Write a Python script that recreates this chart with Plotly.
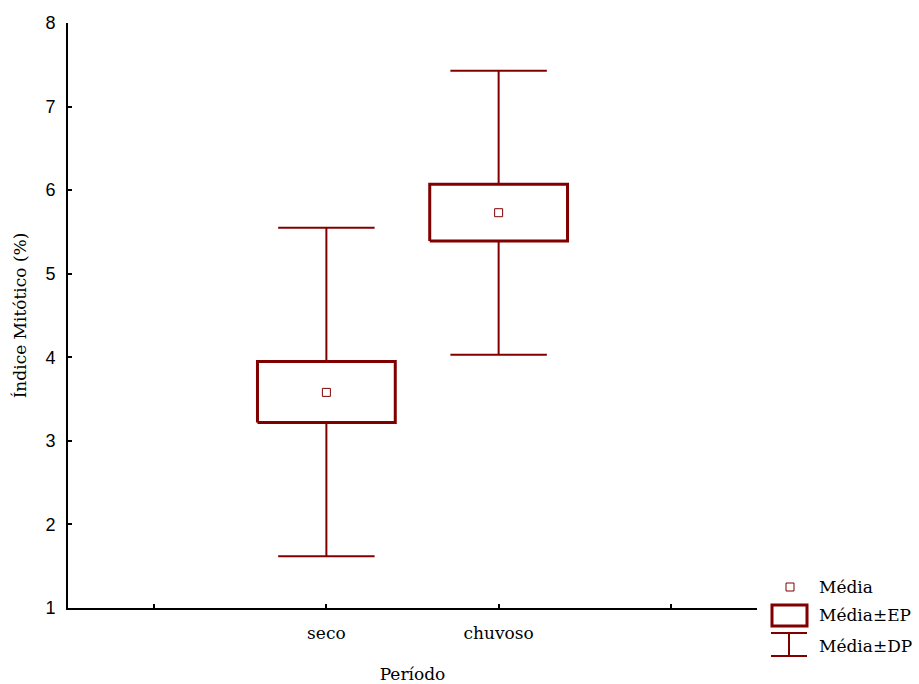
import plotly.graph_objects as go

# Mitotic index by period: mean, standard error (EP) and standard deviation (DP)
categorias = ["seco", "chuvoso"]
posicoes = [1, 2]
media = [3.58, 5.73]
ep_inf = [3.22, 5.39]
ep_sup = [3.95, 6.07]
dp_inf = [1.62, 4.03]
dp_sup = [5.55, 7.43]

tick_vals = [0, 1, 2, 3]
tick_text = ["", "seco", "chuvoso", ""]

COR = "#800000"
SERIF = "DejaVu Serif"
SANS = "Liberation Sans"
BOX_HW = 0.4     # half width of the SE box
CAP_HW = 0.28    # half width of the SD whisker caps

fig = go.Figure()

for x, m, el, eu, dl, du in zip(posicoes, media, ep_inf, ep_sup, dp_inf, dp_sup):
    # whisker: vertical stem plus caps
    fig.add_trace(go.Scatter(
        x=[x - CAP_HW, x + CAP_HW, None, x, x, None, x - CAP_HW, x + CAP_HW],
        y=[du, du, None, du, dl, None, dl, dl],
        mode="lines", line=dict(color=COR, width=2), hoverinfo="skip",
        showlegend=False))
    # SE box, filled white so it covers the stem
    fig.add_trace(go.Scatter(
        x=[x - BOX_HW, x + BOX_HW, x + BOX_HW, x - BOX_HW, x - BOX_HW],
        y=[el, el, eu, eu, el],
        mode="lines", fill="toself", fillcolor="white",
        line=dict(color=COR, width=3), hoverinfo="skip", showlegend=False))

# mean markers
fig.add_trace(go.Scatter(
    x=posicoes, y=media, mode="markers",
    marker=dict(symbol="square-open", size=8, color=COR, line=dict(width=1)),
    showlegend=False))

# plot area in pixels
L, R, T, B = 68, 757, 23, 608
W, H = 919, 684


def px(xp):
    return (xp - L) / (R - L)


def py(yp):
    return (B - yp) / (B - T)


shapes = []
annots = []
# legend: mean marker
shapes.append(dict(type="rect", xref="paper", yref="paper",
                   x0=px(786), x1=px(794), y0=py(591), y1=py(583),
                   line=dict(color=COR, width=1)))
# legend: SE box
shapes.append(dict(type="rect", xref="paper", yref="paper",
                   x0=px(772), x1=px(807), y0=py(626), y1=py(605),
                   line=dict(color=COR, width=3)))
# legend: SD whisker
for seg in [(771, 633, 807, 633), (771, 656, 807, 656), (789, 633, 789, 656)]:
    shapes.append(dict(type="line", xref="paper", yref="paper",
                       x0=px(seg[0]), y0=py(seg[1]), x1=px(seg[2]), y1=py(seg[3]),
                       line=dict(color=COR, width=2)))
for txt, yy in [("Média", 587), ("Média±EP", 615), ("Média±DP", 646)]:
    annots.append(dict(text=txt, xref="paper", yref="paper", x=px(817), y=py(yy),
                       xanchor="left", yanchor="middle", showarrow=False,
                       font=dict(family=SERIF, size=17, color="black")))

fig.update_layout(
    width=W, height=H,
    margin=dict(l=L, r=W - R, t=T, b=H - B, autoexpand=False),
    paper_bgcolor="white", plot_bgcolor="white",
    shapes=shapes, annotations=annots,
    showlegend=False,
    xaxis=dict(range=[-0.5, 3.5], tickvals=tick_vals, ticktext=tick_text,
               automargin=False,
               showline=True, linecolor="black", linewidth=2,
               ticks="inside", ticklen=4, tickwidth=2, tickcolor="black",
               showgrid=False, zeroline=False, ticklabelstandoff=9,
               tickfont=dict(family=SERIF, size=17, color="black"),
               title=dict(text="Período", font=dict(family=SERIF, size=17, color="black"),
                          standoff=26)),
    yaxis=dict(range=[1, 8], tickvals=list(range(1, 9)),
               automargin=False,
               showline=True, linecolor="black", linewidth=2,
               ticks="inside", ticklen=4, tickwidth=2, tickcolor="black",
               showgrid=False, zeroline=False, ticklabelstandoff=7,
               tickfont=dict(family=SANS, size=18, color="black"),
               title=dict(text="Índice Mitótico (%)",
                          font=dict(family=SERIF, size=17, color="black"),
                          standoff=14)),
)

fig.write_html("out.html")
